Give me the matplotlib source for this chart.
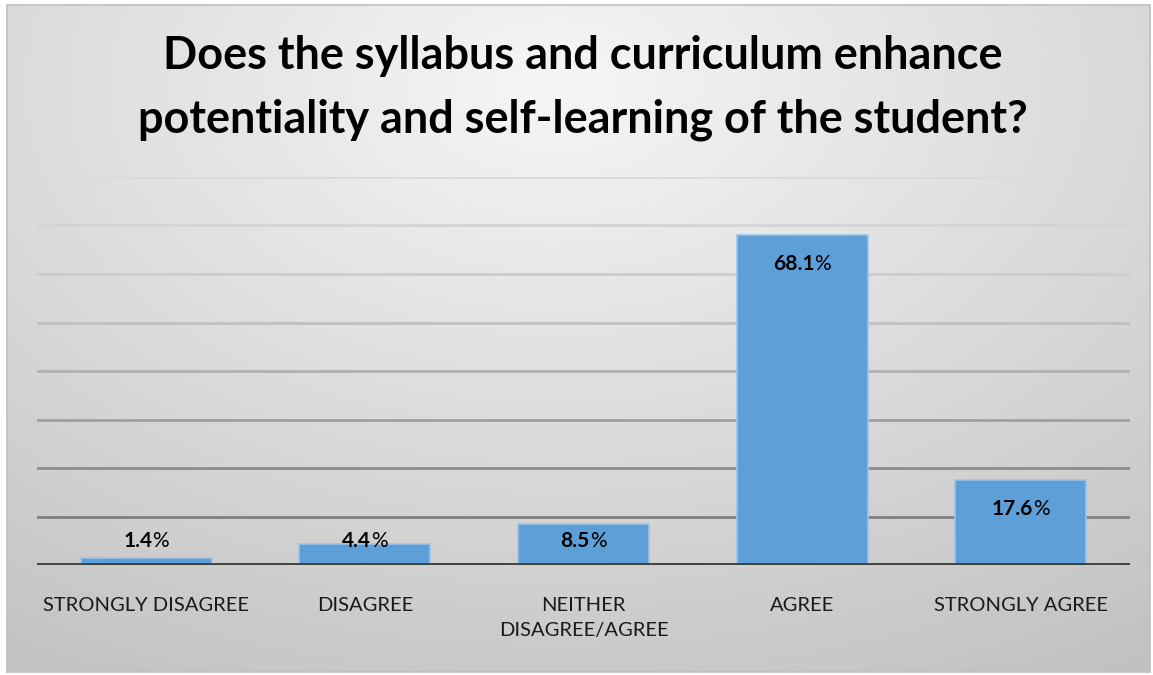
import numpy as np
import matplotlib as mpl
import matplotlib.pyplot as plt

categories = ["STRONGLY DISAGREE", "DISAGREE", "NEITHER\nDISAGREE/AGREE", "AGREE", "STRONGLY AGREE"]
values = [1.4, 4.4, 8.5, 68.1, 17.6]
title = "Does the syllabus and curriculum enhance\npotentiality and self-learning of the student?"

plt.rcParams['font.family'] = ['Lato', 'DejaVu Sans']

W, H = 1153, 675
fig = plt.figure(figsize=(W / 100, H / 100), dpi=100)
fig.patch.set_facecolor("white")

# radial grey background of the chart area
x0, x1, y0, y1 = 7, 1150, 5, 672
bg = fig.add_axes([x0 / W, 1 - y1 / H, (x1 - x0) / W, (y1 - y0) / H])
gx, gy = np.meshgrid(np.linspace(0, 1, 400), np.linspace(0, 1, 240))
r = np.sqrt(((gx - 0.48) / 1.0) ** 2 + ((gy - 0.12) / 1.1) ** 2)
shade = np.clip(0.965 - 0.22 * r, 0.76, 1)
bg.imshow(np.dstack([shade] * 3), aspect="auto", extent=[0, 1, 1, 0])
bg.set_xticks([])
bg.set_yticks([])
for s in bg.spines.values():
    s.set_color("#bfbfbf")
    s.set_linewidth(1.2)

# plot area
px0, px1, py0, py1 = 37, 1130, 177, 565
ax = fig.add_axes([px0 / W, 1 - py1 / H, (px1 - px0) / W, (py1 - py0) / H])
ax.patch.set_alpha(0)
ax.set_ylim(0, 80)
ax.set_xlim(-0.5, len(values) - 0.5)

grid_cols = ["#808080", "#8c8c8c", "#a0a0a0", "#b0b0b0", "#c0c0c0", "#cccccc", "#d4d4d4", "#dadada"]
for i, g in enumerate(range(10, 90, 10)):
    ax.axhline(g, color=grid_cols[i], lw=2, zorder=1)

x = np.arange(len(values))
ax.bar(x, values, width=0.6, color="#5f9fd8", edgecolor="#9dc3e6", linewidth=1.2, zorder=2)
ax.axhline(0, color="#404040", lw=3.5, zorder=3)

for s in ax.spines.values():
    s.set_visible(False)
ax.set_yticks([])
ax.set_xticks(x)
ax.set_xticklabels(categories, fontsize=14.5, color="#1a1a1a", linespacing=1.6)
ax.tick_params(axis="x", length=0, pad=23)

fig.text(583 / W, 1 - 88 / H, title, ha="center", va="center", fontsize=32.4,
         fontweight="bold", linespacing=1.62, color="black")

# data labels: bold number + regular percent sign
fig.canvas.draw()
rend = fig.canvas.get_renderer()
for xi, v in zip(x, values):
    ly = max(v - 6.0, 4.95)
    t1 = ax.text(xi, ly, f"{v:.1f}", fontsize=15, fontweight="bold", ha="center", va="center", zorder=4)
    t2 = ax.text(xi, ly, "%", fontsize=15, ha="center", va="center", zorder=4)
    w1 = t1.get_window_extent(rend).width
    w2 = t2.get_window_extent(rend).width
    tot = w1 + w2
    t1.set_ha("left")
    t2.set_ha("left")
    t1.set_transform(ax.transData + mpl.transforms.ScaledTranslation(-tot / 2 / 100, 0, fig.dpi_scale_trans))
    t2.set_transform(ax.transData + mpl.transforms.ScaledTranslation((w1 - tot / 2) / 100, 0, fig.dpi_scale_trans))

fig.savefig("out.png", dpi=100)
